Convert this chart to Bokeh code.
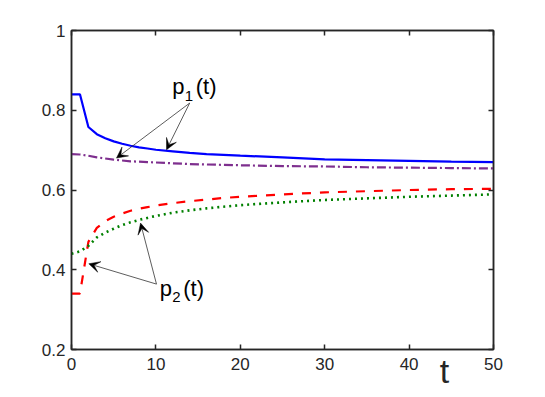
from bokeh.plotting import figure
from bokeh.models import (Range1d, LinearAxis, FixedTicker, Label, Arrow, VeeHead,
                          CustomJSTickFormatter)
from bokeh.embed import file_html
from bokeh.resources import INLINE

# ---- data ----
t = [0, 1, 2, 3, 4, 5, 6, 7, 8, 9, 10, 12, 14, 16, 18, 20, 25, 30, 35, 40, 45, 50]
p1_blue = [0.840, 0.840, 0.758, 0.740, 0.730, 0.722, 0.716, 0.711, 0.707, 0.704, 0.701,
           0.697, 0.693, 0.690, 0.688, 0.686, 0.682, 0.677, 0.675, 0.673, 0.671, 0.670]
p1_purple = [0.690, 0.689, 0.686, 0.682, 0.679, 0.676, 0.674, 0.672, 0.671, 0.670, 0.669,
             0.667, 0.665, 0.664, 0.663, 0.662, 0.660, 0.659, 0.657, 0.656, 0.655, 0.654]
p2_red = [0.340, 0.340, 0.470, 0.505, 0.522, 0.533, 0.541, 0.548, 0.553, 0.557, 0.561,
          0.567, 0.572, 0.576, 0.580, 0.583, 0.589, 0.594, 0.597, 0.600, 0.602, 0.603]
p2_green = [0.440, 0.446, 0.460, 0.481, 0.493, 0.503, 0.512, 0.519, 0.525, 0.530, 0.535,
            0.543, 0.549, 0.554, 0.558, 0.562, 0.569, 0.575, 0.579, 0.583, 0.586, 0.589]
x_ticks = [0, 10, 20, 30, 40, 50]
y_ticks = [0.2, 0.4, 0.6, 0.8, 1.0]
x_title = "t"
x_title_pos = [44.2]

FONT = "Liberation Sans"
AX = "#262626"

p = figure(width=540, height=392, output_backend="svg", toolbar_location=None,
           x_range=Range1d(0, 50), y_range=Range1d(0.2, 1.0),
           min_border_left=71, min_border_right=47, min_border_top=30, min_border_bottom=39)
p.xgrid.visible = False
p.ygrid.visible = False
p.outline_line_color = AX
p.outline_line_width = 1.5
p.background_fill_color = "white"

yfmt = CustomJSTickFormatter(code="return (tick > 0.99) ? '1' : tick.toFixed(1);")
blank = CustomJSTickFormatter(code="return '';")

for ax in (p.xaxis[0], p.yaxis[0]):
    ax.major_tick_in = 5
    ax.major_tick_out = 0
    ax.minor_tick_line_color = None
    ax.axis_line_color = AX
    ax.axis_line_width = 1.5
    ax.major_tick_line_color = AX
    ax.major_tick_line_width = 1.5
    ax.major_label_text_font = FONT
    ax.major_label_text_font_size = "17px"
    ax.major_label_text_color = AX
p.xaxis[0].major_label_standoff = 8
p.yaxis[0].major_label_standoff = 6
p.xaxis[0].ticker = FixedTicker(ticks=x_ticks)
p.yaxis[0].ticker = FixedTicker(ticks=y_ticks)
p.yaxis[0].formatter = yfmt

for loc, ticks in (("right", y_ticks), ("above", x_ticks)):
    a = LinearAxis(ticker=FixedTicker(ticks=ticks), formatter=blank)
    a.major_tick_in = 5
    a.major_tick_out = 0
    a.minor_tick_line_color = None
    a.axis_line_color = AX
    a.axis_line_width = 1.5
    a.major_tick_line_color = AX
    a.major_tick_line_width = 1.5
    a.major_label_standoff = 0
    p.add_layout(a, loc)

# axis title "t" drawn as the single label of an extra, line-less bottom axis
tax = LinearAxis(ticker=FixedTicker(ticks=x_title_pos),
                 formatter=CustomJSTickFormatter(args=dict(s=x_title), code="return s;"))
tax.axis_line_color = None
tax.major_tick_line_color = None
tax.minor_tick_line_color = None
tax.major_tick_in = 0
tax.major_tick_out = 0
tax.major_label_text_font = FONT
tax.major_label_text_font_size = "34px"
tax.major_label_text_color = AX
tax.major_label_standoff = -21
p.add_layout(tax, "below")

# ---- curves ----
p.line(t, p1_blue, line_color="#0000ff", line_width=2.2)
p.line(t, p1_purple, line_color="#7e2f8e", line_width=2.2, line_dash="9 3 2 3")
p.line(t, p2_red, line_color="#ff0000", line_width=2.2, line_dash="9 9")
p.line(t, p2_green, line_color="#008000", line_width=2.6, line_dash="2 4")

# ---- annotations ----
def sublabel(x, y, main, sub):
    p.add_layout(Label(x=x, y=y, text=main, text_font=FONT, text_font_size="22px",
                       text_baseline="alphabetic", text_align="left", text_color="black"))
    p.add_layout(Label(x=x, y=y, x_offset=12.5, y_offset=-9, text=sub, text_font=FONT,
                       text_font_size="15px", text_baseline="alphabetic", text_align="left",
                       text_color="black"))
    p.add_layout(Label(x=x, y=y, x_offset=23.5, text="(t)", text_font=FONT,
                       text_font_size="22px", text_baseline="alphabetic", text_align="left",
                       text_color="black"))

sublabel(11.93, 0.859, "p", "1")
sublabel(10.46, 0.354, "p", "2")

def arrow(x0, y0, x1, y1):
    p.add_layout(Arrow(x_start=x0, y_start=y0, x_end=x1, y_end=y1,
                       line_color="#333333", line_width=0.8,
                       end=VeeHead(size=11, fill_color="black", line_color="black", line_width=0.5)))

arrow(14.0, 0.818, 5.33, 0.680)
arrow(14.0, 0.818, 11.26, 0.701)
arrow(10.07, 0.364, 8.18, 0.517)
arrow(10.07, 0.364, 2.05, 0.415)

open("out.html", "w").write(file_html(p, INLINE))
